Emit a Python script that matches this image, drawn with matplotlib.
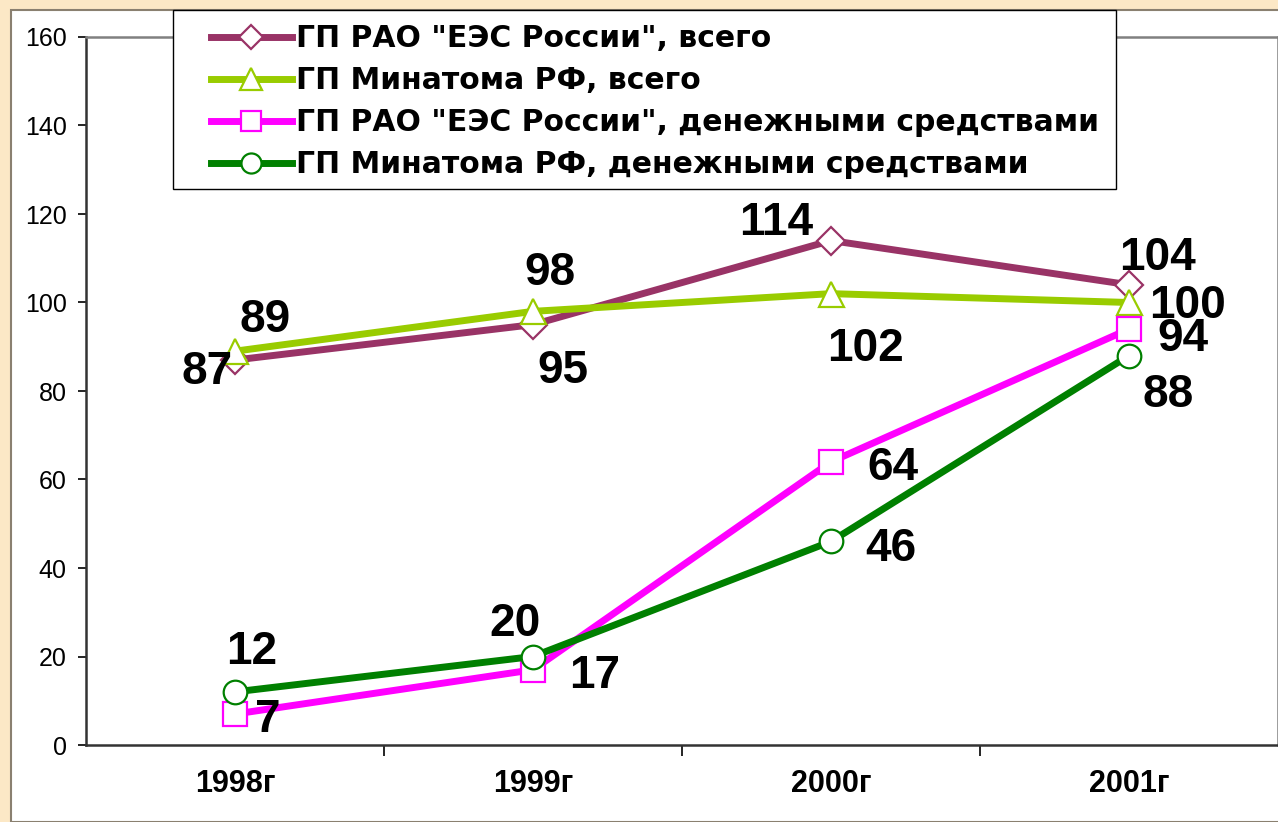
import matplotlib.pyplot as plt
from matplotlib.patches import Rectangle

plt.rcParams['font.family'] = ['Liberation Sans', 'DejaVu Sans']

# Данные
годы = ['1998г', '1999г', '2000г', '2001г']
рао_всего = [87, 95, 114, 104]
минатом_всего = [89, 98, 102, 100]
рао_деньги = [7, 17, 64, 94]
минатом_деньги = [12, 20, 46, 88]

названия = ['ГП РАО "ЕЭС России", всего',
            'ГП Минатома РФ, всего',
            'ГП РАО "ЕЭС России", денежными средствами',
            'ГП Минатома РФ, денежными средствами']

W, H = 1278, 822
fig = plt.figure(figsize=(W / 100, H / 100), dpi=100)
fig.patch.set_facecolor('#FCE8C6')
# белая область диаграммы
fig.patches.append(Rectangle((11 / W, 0), 1.0, 1 - 10 / H, transform=fig.transFigure,
                             facecolor='white', edgecolor='#8A8070', linewidth=1.5, zorder=-10))

ax = fig.add_axes([86 / W, 77 / H, 1192 / W, 708 / H])
ax.set_facecolor('white')

x = list(range(len(годы)))
серии = [
    (рао_всего, '#993366', 'D', 14,
     [(-28, -12), (30, -46), (-55, 18), (29, 27)]),
    (минатом_всего, '#99CC00', '^', 18,
     [(30, 31), (17, 38), (35, -55), (59, -4)]),
    (рао_деньги, '#FF00FF', 's', 17,
     [(33, -6), (62, -6), (62, -6), (54, -10)]),
    (минатом_деньги, '#008000', 'o', 17,
     [(17, 40), (-18, 33), (60, -8), (39, -39)]),
]

for (значения, цвет, маркер, размер, сдвиги), имя in zip(серии, названия):
    ax.plot(x, значения, color=цвет, linewidth=5, marker=маркер, markersize=размер,
            markerfacecolor='white', markeredgecolor=цвет, markeredgewidth=1.6,
            label=имя, clip_on=False)
    for xi, v, (dx, dy) in zip(x, значения, сдвиги):
        ax.annotate(str(v), (xi, v), xytext=(dx, dy), textcoords='offset pixels',
                    ha='center', va='center', fontsize=33, fontweight='bold', color='black')

ax.set_xlim(-0.5, 3.5)
ax.set_ylim(0, 160)
ax.set_yticks(range(0, 161, 20))
ax.tick_params(axis='y', labelsize=18, length=6, width=1.2, direction='out', pad=8)

# подписи лет по центру, риски между категориями
ax.set_xticks([0.5, 1.5, 2.5], minor=False)
ax.set_xticklabels([])
ax.set_xticks(x, minor=True)
ax.set_xticklabels(годы, minor=True, fontsize=22, fontweight='bold')
ax.tick_params(axis='x', which='major', length=8, width=1.2, direction='out')
ax.tick_params(axis='x', which='minor', length=0, pad=17)

for сторона in ['left', 'bottom']:
    ax.spines[сторона].set_color('#333333')
    ax.spines[сторона].set_linewidth(1.8)
for сторона in ['top', 'right']:
    ax.spines[сторона].set_color('#808080')
    ax.spines[сторона].set_linewidth(1.8)

# рамка легенды
рамка = Rectangle((173 / W, 1 - 189 / H), (1116 - 173) / W, (189 - 10) / H,
                  transform=fig.transFigure, facecolor='white', edgecolor='black',
                  linewidth=1.0, zorder=4.5, clip_on=False)
ax.add_artist(рамка)

leg = ax.legend(loc='upper left', bbox_to_anchor=(211 / W, 1 - 24 / H),
                bbox_transform=fig.transFigure, borderaxespad=0, borderpad=0,
                frameon=False, handlelength=2.7, handletextpad=0.15,
                labelspacing=0.44, markerscale=0.85,
                prop={'family': 'DejaVu Sans', 'weight': 'bold', 'size': 21.5})
leg.set_zorder(5)

fig.savefig('out.png', dpi=100, facecolor=fig.get_facecolor())
